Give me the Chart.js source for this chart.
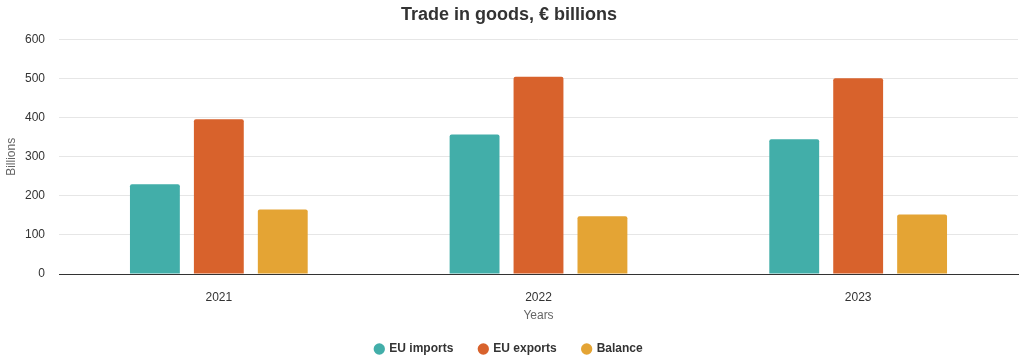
<!DOCTYPE html>
<html>
<head>
<meta charset="utf-8">
<script src="https://cdn.jsdelivr.net/npm/chart.js@4/dist/chart.umd.min.js"></script>
<style>
  html, body { margin: 0; padding: 0; background: #fff; }
  #wrap { width: 1024px; height: 360px; position: relative; }
</style>
</head>
<body>
<div id="wrap"><canvas id="myChart"></canvas></div>
<script>
// data
const years = ['2021', '2022', '2023'];
const euImports = [230, 357, 345];
const euExports = [396, 505, 501];
const balance = [165, 148, 152];
const yTicks = [0, 100, 200, 300, 400, 500, 600];

Chart.defaults.font.family = '"Liberation Sans", Arial, sans-serif';
Chart.defaults.color = '#333';

const ctx = document.getElementById('myChart');
new Chart(ctx, {
    type: 'bar',
    data: {
        labels: years,
        datasets: [
            { label: 'EU imports', data: euImports, backgroundColor: '#42aea9' },
            { label: 'EU exports', data: euExports, backgroundColor: '#d8622c' },
            { label: 'Balance', data: balance, backgroundColor: '#e4a434' }
        ]
    },
    options: {
        responsive: true,
        maintainAspectRatio: false,
        animation: false,
        layout: { padding: { left: 0, right: 6, top: 0, bottom: -5 } },
        datasets: {
            bar: { categoryPercentage: 0.6, barPercentage: 0.78, borderRadius: 2 }
        },
        plugins: {
            title: {
                display: true,
                text: 'Trade in goods, € billions',
                font: { size: 18, weight: 'bold' },
                color: '#333',
                padding: { top: 4, bottom: 14 }
            },
            legend: {
                position: 'bottom',
                labels: {
                    usePointStyle: true,
                    pointStyle: 'circle',
                    boxWidth: 8,
                    boxHeight: 8,
                    padding: 26,
                    font: { size: 12, weight: 'bold' },
                    color: '#333'
                }
            },
            tooltip: { enabled: false }
        },
        scales: {
            x: {
                grid: { display: false, drawTicks: false },
                border: { color: '#333', width: 1 },
                ticks: { padding: 16, font: { size: 12 }, color: '#333' },
                title: { display: true, text: 'Years', color: '#666', font: { size: 12 }, padding: { top: 2, bottom: -6 } },
                afterFit: function(axis) { axis.height = 43; }
            },
            y: {
                min: 0,
                max: 600,
                afterBuildTicks: function(axis) {
                    axis.ticks = yTicks.map(v => ({ value: v }));
                },
                grid: { color: '#e6e6e6', drawTicks: false },
                border: { display: false },
                ticks: { padding: 14, font: { size: 12 }, color: '#333' },
                title: { display: true, text: 'Billions', color: '#666', font: { size: 12 }, padding: { top: 4, bottom: 0 } },
                afterFit: function(axis) { axis.width = 59; }
            }
        }
    }
});
</script>
</body>
</html>
